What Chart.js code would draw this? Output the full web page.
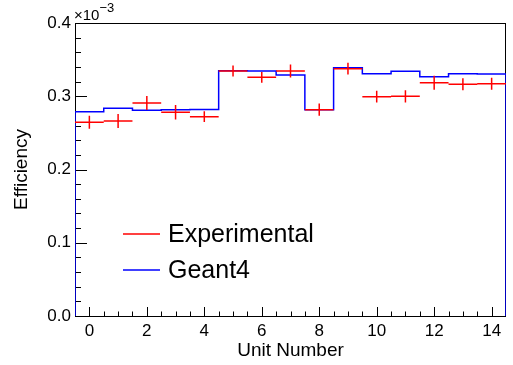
<!DOCTYPE html>
<html>
<head>
<meta charset="utf-8">
<script src="https://cdn.jsdelivr.net/npm/chart.js@4.4.0/dist/chart.umd.min.js"></script>
<style>
  body { margin: 0; background: #fff; }
  canvas { display: block; }
</style>
</head>
<body>
<canvas id="myChart" width="513" height="365"></canvas>
<script>
// efficiency values are in units of 1e-3
var units = [0, 1, 2, 3, 4, 5, 6, 7, 8, 9, 10, 11, 12, 13, 14];
var geant4 = [0.279, 0.2835, 0.2808, 0.2817, 0.282, 0.3349, 0.3345, 0.329, 0.2817, 0.339, 0.3308, 0.334, 0.3267, 0.3308, 0.3304];
var experimental = [0.2644, 0.2662, 0.2908, 0.2781, 0.2721, 0.3345, 0.3259, 0.3345, 0.2817, 0.3377, 0.2994, 0.2999, 0.3185, 0.3163, 0.3172];
var expError = [0.0089, 0.0096, 0.0096, 0.01, 0.0073, 0.0075, 0.0073, 0.009, 0.0084, 0.008, 0.008, 0.0084, 0.0096, 0.0082, 0.0082];
var yTicks = [0, 0.1, 0.2, 0.3, 0.4];
var xTicks = [0, 2, 4, 6, 8, 10, 12, 14];

var FONT = "'Liberation Sans', Arial, sans-serif";

// histogram outline, points on the left bin edges
var histPoints = [{x: units[0] - 0.5, y: 0}];
for (var i = 0; i < units.length; i++) {
  histPoints.push({x: units[i] - 0.5, y: geant4[i]});
}
var last = units.length - 1;
histPoints.push({x: units[last] + 0.5, y: geant4[last]});
histPoints.push({x: units[last] + 0.5, y: 0});

// error crosses, broken up with nulls
var errPoints = [];
for (var i = 0; i < units.length; i++) {
  var c = units[i], v = experimental[i], e = expError[i];
  errPoints.push({x: c - 0.5, y: v}, {x: c + 0.5, y: v}, {x: c, y: null});
  errPoints.push({x: c, y: v - e}, {x: c, y: v + e}, {x: c, y: null});
}

var rootFrame = {
  id: 'rootFrame',
  beforeDatasetsDraw: function(chart) {
    var ctx = chart.ctx, a = chart.chartArea;
    var xs = chart.scales.x, ys = chart.scales.y;
    ctx.save();
    ctx.strokeStyle = '#000';
    ctx.lineWidth = 1;
    ctx.strokeRect(Math.round(a.left) + 0.5, Math.round(a.top) + 0.5,
                   Math.round(a.right - a.left) - 1, Math.round(a.bottom - a.top));
    ctx.beginPath();
    // y ticks, major 0.1 and minor 0.02
    for (var k = 0; k <= 20; k++) {
      var py = Math.round(ys.getPixelForValue(k * 0.02)) + 0.5;
      var len = (k % 5 === 0) ? 12 : 6;
      ctx.moveTo(a.left, py);
      ctx.lineTo(a.left + len, py);
    }
    // x ticks, major 2 and minor 0.5
    for (var k = 0; k <= 28; k++) {
      var px = Math.round(xs.getPixelForValue(k * 0.5)) + 0.5;
      var len = (k % 4 === 0) ? 9 : 4.5;
      ctx.moveTo(px, a.bottom);
      ctx.lineTo(px, a.bottom - len);
    }
    ctx.stroke();
    // exponent label
    ctx.fillStyle = '#000';
    ctx.textBaseline = 'alphabetic';
    ctx.textAlign = 'left';
    ctx.font = '15px ' + FONT;
    ctx.fillText('\u00d710', 74, 20);
    var w = ctx.measureText('\u00d710').width;
    ctx.font = '13px ' + FONT;
    ctx.fillText('\u22123', 74 + w, 11.5);
    ctx.restore();
  },
  afterDraw: function(chart) {
    var ctx = chart.ctx;
    var rows = [234, 270];
    ctx.save();
    ctx.font = '25px ' + FONT;
    ctx.textBaseline = 'middle';
    ctx.textAlign = 'left';
    chart.data.datasets.forEach(function(ds, j) {
      ctx.strokeStyle = ds.borderColor;
      ctx.lineWidth = 1.5;
      ctx.beginPath();
      ctx.moveTo(123, rows[j]);
      ctx.lineTo(160, rows[j]);
      ctx.stroke();
      ctx.fillStyle = '#000';
      ctx.fillText(ds.label, 168, rows[j] + 1);
    });
    ctx.restore();
  }
};

new Chart(document.getElementById("myChart"), {
  type: 'line',
  data: {
    datasets: [{
      label: 'Experimental',
      data: errPoints,
      borderColor: '#ff0000',
      borderWidth: 1.5,
      pointRadius: 0,
      spanGaps: false,
      order: 1
    }, {
      label: 'Geant4',
      data: histPoints,
      borderColor: '#0000ff',
      borderWidth: 1.5,
      pointRadius: 0,
      stepped: true,
      order: 2
    }]
  },
  options: {
    responsive: false,
    devicePixelRatio: 1,
    animation: false,
    layout: { padding: { top: 23, right: 7, left: 0, bottom: 0 } },
    plugins: {
      legend: { display: false },
      tooltip: { enabled: false }
    },
    scales: {
      x: {
        type: 'linear',
        min: -0.5,
        max: 14.5,
        afterFit: function(s) { s.height = 49; },
        afterBuildTicks: function(s) {
          s.ticks = xTicks.map(function(v) { return {value: v}; });
        },
        grid: { display: false, drawTicks: false },
        border: { display: false },
        ticks: {
          padding: 5,
          maxRotation: 0,
          color: '#000',
          font: { family: FONT, size: 17 }
        },
        title: {
          display: true,
          text: 'Unit Number',
          color: '#000',
          font: { family: FONT, size: 19 },
          padding: { top: 0, bottom: 3 }
        }
      },
      y: {
        type: 'linear',
        min: 0,
        max: 0.4,
        afterFit: function(s) { s.width = 75; },
        afterBuildTicks: function(s) {
          s.ticks = yTicks.map(function(v) { return {value: v}; });
        },
        grid: { display: false, drawTicks: false },
        border: { display: false },
        ticks: {
          padding: 4,
          color: '#000',
          font: { family: FONT, size: 17 },
          callback: function(v) { return v.toFixed(1); }
        },
        title: {
          display: true,
          text: 'Efficiency',
          color: '#000',
          font: { family: FONT, size: 19 },
          padding: { top: 10, bottom: 0 }
        }
      }
    }
  },
  plugins: [rootFrame]
});
</script>
</body>
</html>
